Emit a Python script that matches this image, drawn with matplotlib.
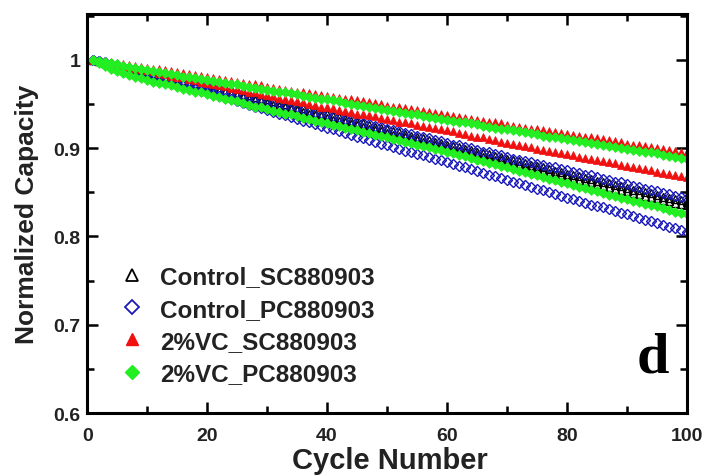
# Normalized capacity vs cycle number, four electrolyte/cell combinations (two cells each)

import numpy as np
import matplotlib.pyplot as plt
from matplotlib.lines import Line2D
from matplotlib.ticker import MultipleLocator

plt.rcParams['font.family'] = ['Liberation Sans', 'DejaVu Sans']

cycles = np.arange(1, 101)

# Control_SC880903, two cells
ctrl_sc_a = [1.000, 0.998, 0.996, 0.995, 0.993, 0.991, 0.990, 0.988, 0.986, 0.985,
             0.983, 0.982, 0.980, 0.978, 0.977, 0.975, 0.973, 0.971, 0.970, 0.968,
             0.966, 0.965, 0.963, 0.961, 0.960, 0.958, 0.956, 0.954, 0.953, 0.951,
             0.949, 0.948, 0.946, 0.944, 0.943, 0.941, 0.939, 0.937, 0.936, 0.934,
             0.932, 0.931, 0.929, 0.927, 0.926, 0.924, 0.922, 0.920, 0.919, 0.917,
             0.915, 0.914, 0.912, 0.910, 0.909, 0.907, 0.905, 0.903, 0.902, 0.900,
             0.898, 0.897, 0.895, 0.894, 0.892, 0.890, 0.889, 0.887, 0.886, 0.884,
             0.882, 0.881, 0.879, 0.877, 0.876, 0.874, 0.872, 0.870, 0.869, 0.867,
             0.865, 0.864, 0.862, 0.861, 0.859, 0.857, 0.856, 0.854, 0.853, 0.851,
             0.849, 0.848, 0.846, 0.845, 0.843, 0.841, 0.840, 0.838, 0.837, 0.835]
ctrl_sc_b = [1.000, 0.999, 0.997, 0.996, 0.994, 0.993, 0.991, 0.990, 0.988, 0.987,
             0.985, 0.984, 0.982, 0.981, 0.979, 0.977, 0.976, 0.974, 0.973, 0.971,
             0.969, 0.968, 0.966, 0.965, 0.963, 0.961, 0.960, 0.958, 0.957, 0.955,
             0.953, 0.952, 0.950, 0.948, 0.947, 0.945, 0.943, 0.941, 0.940, 0.938,
             0.936, 0.935, 0.933, 0.931, 0.930, 0.928, 0.926, 0.924, 0.923, 0.921,
             0.919, 0.918, 0.916, 0.914, 0.913, 0.911, 0.909, 0.907, 0.906, 0.904,
             0.902, 0.901, 0.899, 0.898, 0.896, 0.894, 0.893, 0.891, 0.890, 0.888,
             0.886, 0.885, 0.883, 0.881, 0.880, 0.878, 0.876, 0.874, 0.873, 0.871,
             0.869, 0.868, 0.866, 0.865, 0.863, 0.861, 0.860, 0.858, 0.857, 0.855,
             0.853, 0.852, 0.850, 0.849, 0.847, 0.845, 0.844, 0.842, 0.841, 0.839]

# Control_PC880903, two cells
ctrl_pc_a = [1.000, 0.998, 0.997, 0.995, 0.994, 0.992, 0.991, 0.989, 0.988, 0.986,
             0.984, 0.983, 0.981, 0.980, 0.978, 0.976, 0.975, 0.973, 0.972, 0.970,
             0.968, 0.967, 0.965, 0.964, 0.962, 0.960, 0.959, 0.957, 0.956, 0.954,
             0.952, 0.951, 0.949, 0.948, 0.946, 0.944, 0.943, 0.941, 0.940, 0.938,
             0.936, 0.935, 0.933, 0.932, 0.930, 0.928, 0.927, 0.925, 0.924, 0.922,
             0.920, 0.919, 0.917, 0.916, 0.914, 0.912, 0.911, 0.909, 0.908, 0.906,
             0.904, 0.903, 0.901, 0.900, 0.898, 0.896, 0.895, 0.893, 0.892, 0.890,
             0.888, 0.887, 0.885, 0.884, 0.882, 0.881, 0.879, 0.878, 0.876, 0.875,
             0.873, 0.872, 0.870, 0.869, 0.867, 0.865, 0.864, 0.862, 0.861, 0.859,
             0.857, 0.856, 0.854, 0.853, 0.851, 0.849, 0.848, 0.846, 0.845, 0.843]
ctrl_pc_b = [1.000, 0.998, 0.996, 0.994, 0.992, 0.990, 0.988, 0.986, 0.984, 0.982,
             0.980, 0.978, 0.976, 0.974, 0.972, 0.971, 0.969, 0.967, 0.965, 0.963,
             0.961, 0.959, 0.957, 0.955, 0.953, 0.951, 0.949, 0.947, 0.945, 0.943,
             0.941, 0.939, 0.937, 0.935, 0.933, 0.931, 0.929, 0.927, 0.925, 0.923,
             0.921, 0.919, 0.917, 0.915, 0.913, 0.911, 0.909, 0.907, 0.905, 0.903,
             0.901, 0.899, 0.897, 0.895, 0.893, 0.892, 0.890, 0.888, 0.886, 0.884,
             0.882, 0.880, 0.878, 0.876, 0.874, 0.872, 0.870, 0.868, 0.866, 0.864,
             0.862, 0.860, 0.858, 0.856, 0.854, 0.852, 0.850, 0.848, 0.846, 0.844,
             0.842, 0.840, 0.838, 0.836, 0.834, 0.833, 0.831, 0.829, 0.827, 0.825,
             0.823, 0.821, 0.819, 0.817, 0.815, 0.813, 0.811, 0.809, 0.807, 0.805]

# 2%VC_SC880903, two cells
vc_sc_a = [1.000, 0.999, 0.998, 0.997, 0.996, 0.995, 0.994, 0.993, 0.992, 0.991,
           0.990, 0.989, 0.988, 0.987, 0.986, 0.985, 0.984, 0.983, 0.982, 0.980,
           0.979, 0.978, 0.977, 0.976, 0.975, 0.974, 0.973, 0.972, 0.971, 0.969,
           0.968, 0.967, 0.966, 0.965, 0.964, 0.963, 0.962, 0.961, 0.960, 0.959,
           0.958, 0.957, 0.956, 0.955, 0.954, 0.953, 0.952, 0.951, 0.950, 0.948,
           0.947, 0.946, 0.945, 0.944, 0.943, 0.942, 0.941, 0.940, 0.939, 0.937,
           0.936, 0.935, 0.934, 0.933, 0.932, 0.931, 0.930, 0.929, 0.928, 0.926,
           0.925, 0.924, 0.923, 0.922, 0.921, 0.920, 0.919, 0.918, 0.917, 0.916,
           0.915, 0.914, 0.913, 0.912, 0.911, 0.910, 0.909, 0.908, 0.907, 0.905,
           0.904, 0.903, 0.902, 0.901, 0.900, 0.899, 0.898, 0.897, 0.896, 0.895]
vc_sc_b = [1.000, 0.999, 0.997, 0.996, 0.995, 0.993, 0.992, 0.991, 0.989, 0.988,
           0.987, 0.985, 0.984, 0.982, 0.981, 0.980, 0.978, 0.977, 0.975, 0.974,
           0.973, 0.971, 0.970, 0.968, 0.967, 0.966, 0.964, 0.963, 0.961, 0.960,
           0.959, 0.957, 0.956, 0.954, 0.953, 0.952, 0.950, 0.949, 0.947, 0.946,
           0.945, 0.943, 0.942, 0.941, 0.939, 0.938, 0.937, 0.936, 0.934, 0.933,
           0.932, 0.930, 0.929, 0.928, 0.926, 0.925, 0.924, 0.923, 0.921, 0.920,
           0.919, 0.917, 0.916, 0.914, 0.913, 0.912, 0.910, 0.909, 0.907, 0.906,
           0.905, 0.903, 0.902, 0.901, 0.899, 0.898, 0.897, 0.896, 0.894, 0.893,
           0.892, 0.890, 0.889, 0.888, 0.886, 0.885, 0.884, 0.883, 0.881, 0.880,
           0.879, 0.877, 0.876, 0.875, 0.873, 0.872, 0.871, 0.870, 0.868, 0.867]

# 2%VC_PC880903, two cells
vc_pc_a = [1.000, 0.999, 0.997, 0.996, 0.995, 0.993, 0.992, 0.991, 0.989, 0.988,
           0.987, 0.986, 0.985, 0.984, 0.983, 0.981, 0.980, 0.979, 0.978, 0.977,
           0.976, 0.975, 0.974, 0.973, 0.972, 0.970, 0.969, 0.968, 0.967, 0.966,
           0.965, 0.964, 0.963, 0.962, 0.961, 0.959, 0.958, 0.957, 0.956, 0.955,
           0.954, 0.953, 0.951, 0.950, 0.949, 0.948, 0.947, 0.945, 0.944, 0.943,
           0.942, 0.941, 0.940, 0.939, 0.938, 0.936, 0.935, 0.934, 0.933, 0.932,
           0.931, 0.930, 0.929, 0.928, 0.927, 0.925, 0.924, 0.923, 0.922, 0.921,
           0.920, 0.919, 0.918, 0.917, 0.916, 0.914, 0.913, 0.912, 0.911, 0.910,
           0.909, 0.908, 0.907, 0.906, 0.905, 0.903, 0.902, 0.901, 0.900, 0.899,
           0.898, 0.897, 0.896, 0.895, 0.894, 0.892, 0.891, 0.890, 0.889, 0.888]
vc_pc_b = [1.000, 0.996, 0.993, 0.990, 0.987, 0.985, 0.983, 0.981, 0.979, 0.977,
           0.975, 0.974, 0.972, 0.971, 0.969, 0.967, 0.966, 0.964, 0.963, 0.961,
           0.959, 0.958, 0.956, 0.954, 0.953, 0.951, 0.949, 0.947, 0.946, 0.944,
           0.942, 0.941, 0.939, 0.938, 0.936, 0.934, 0.933, 0.931, 0.930, 0.928,
           0.926, 0.925, 0.923, 0.922, 0.920, 0.918, 0.917, 0.915, 0.914, 0.912,
           0.910, 0.909, 0.907, 0.906, 0.904, 0.902, 0.901, 0.899, 0.898, 0.896,
           0.894, 0.892, 0.891, 0.889, 0.887, 0.885, 0.883, 0.882, 0.880, 0.878,
           0.876, 0.874, 0.873, 0.871, 0.869, 0.867, 0.865, 0.864, 0.862, 0.860,
           0.858, 0.856, 0.855, 0.853, 0.851, 0.849, 0.847, 0.846, 0.844, 0.842,
           0.840, 0.839, 0.837, 0.835, 0.834, 0.832, 0.830, 0.828, 0.827, 0.825]

labels = ["Control_SC880903", "Control_PC880903", "2%VC_SC880903", "2%VC_PC880903"]

black = "black"
blue = "#1a1ab8"
red = "#f01010"
green = "#22ee22"

fig = plt.figure(figsize=(7.03, 4.77), dpi=100)
ax = fig.add_axes([0.124, 0.132, 0.853, 0.837])

# control SC: open triangles
for y in (ctrl_sc_a, ctrl_sc_b):
    ax.plot(cycles, y, linestyle='none', marker='^', ms=6, mfc='none', mec=black, mew=1.0)
# control PC: open diamonds
for y in (ctrl_pc_a, ctrl_pc_b):
    ax.plot(cycles, y, linestyle='none', marker='D', ms=5, mfc='none', mec=blue, mew=1.0)
# 2% VC SC: filled triangles
for y in (vc_sc_a, vc_sc_b):
    ax.plot(cycles, y, linestyle='none', marker='^', ms=6, mfc=red, mec=red, mew=0.5)
# 2% VC PC: filled diamonds
for y in (vc_pc_a, vc_pc_b):
    ax.plot(cycles, y, linestyle='none', marker='D', ms=5, mfc=green, mec=green, mew=0.5)

ax.set_xlim(0, 100)
ax.set_ylim(0.6, 1.052)
ax.xaxis.set_major_locator(MultipleLocator(20))
ax.xaxis.set_minor_locator(MultipleLocator(10))
ax.yaxis.set_major_locator(MultipleLocator(0.1))
ax.yaxis.set_minor_locator(MultipleLocator(0.05))
ax.set_yticks([0.6, 0.7, 0.8, 0.9, 1.0])
ax.set_yticklabels(["0.6", "0.7", "0.8", "0.9", "1"])

ax.tick_params(which='both', direction='in', top=True, right=True, width=1.8)
ax.tick_params(which='major', length=8, labelsize=14)
ax.tick_params(axis='x', which='major', pad=10)
ax.tick_params(axis='y', which='major', pad=5)
ax.tick_params(which='minor', length=5)
for lab in ax.get_xticklabels() + ax.get_yticklabels():
    lab.set_fontweight('bold')
    lab.set_color('#222222')
for sp in ax.spines.values():
    sp.set_linewidth(2.2)

ax.set_xlabel("Cycle Number", fontsize=21, fontweight='bold', color='#222222')
ax.set_ylabel("Normalized Capacity", fontsize=19, fontweight='bold', color='#222222')
ax.xaxis.set_label_coords(0.505, -0.083)
ax.yaxis.set_label_coords(-0.08, 0.5)

handles = [
    Line2D([], [], linestyle='none', marker='^', ms=8.5, mfc='none', mec=black, mew=1.3),
    Line2D([], [], linestyle='none', marker='D', ms=7, mfc='none', mec=blue, mew=1.3),
    Line2D([], [], linestyle='none', marker='^', ms=8.5, mfc=red, mec=red),
    Line2D([], [], linestyle='none', marker='D', ms=7, mfc=green, mec=green),
]
leg = ax.legend(handles, labels, loc='upper left', bbox_to_anchor=(0.035, 0.400),
                frameon=False, borderpad=0, handlelength=1.0, handletextpad=0.62,
                labelspacing=0.38, prop={'size': 17.5, 'weight': 'bold'})
for t in leg.get_texts():
    t.set_color('#222222')

ax.text(0.943, 0.103, "d", transform=ax.transAxes, ha='center', va='baseline',
        fontsize=42, fontweight='bold', family='Liberation Serif')

fig.savefig("out.png", dpi=100)
